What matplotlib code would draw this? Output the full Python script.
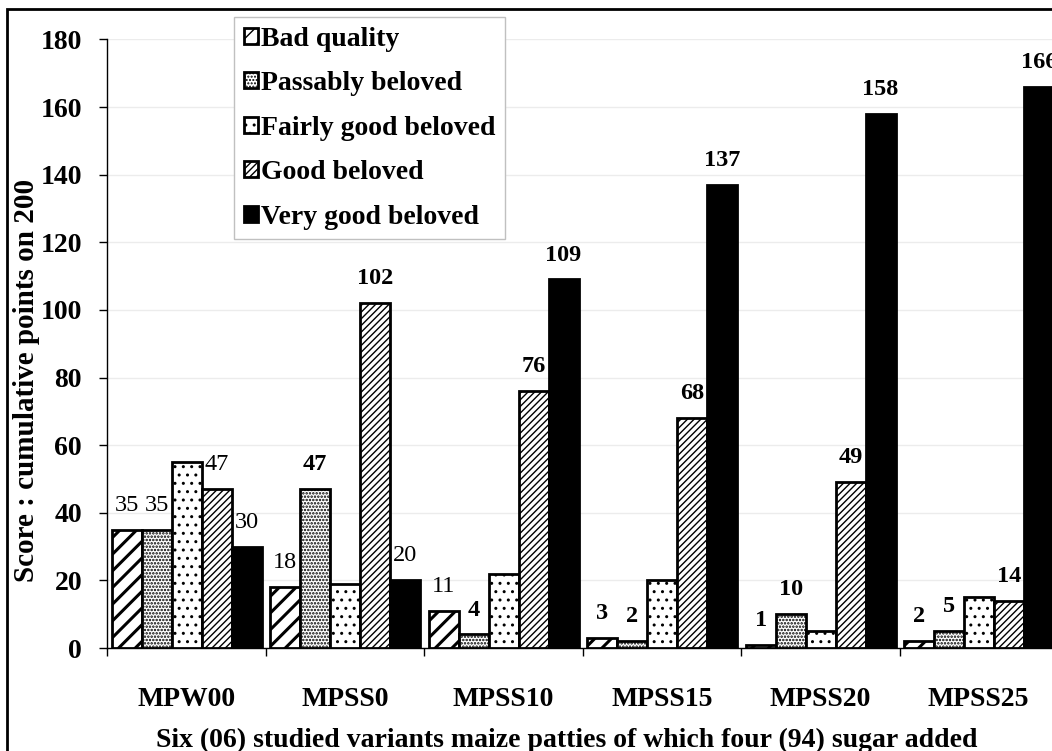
import matplotlib.pyplot as plt
from matplotlib.patches import Rectangle
import numpy as np

plt.rcParams['font.family'] = 'Liberation Serif'
plt.rcParams['font.weight'] = 'bold'

variants = ['MPW00', 'MPSS0', 'MPSS10', 'MPSS15', 'MPSS20', 'MPSS25']
series = ['Bad quality', 'Passably beloved', 'Fairly good beloved',
          'Good beloved', 'Very good beloved']

bad_quality = [35, 18, 11, 3, 1, 2]
passably = [35, 47, 4, 2, 10, 5]
fairly_good = [55, 19, 22, 20, 5, 15]
good = [47, 102, 76, 68, 49, 14]
very_good = [30, 20, 109, 137, 158, 166]

values = [bad_quality, passably, fairly_good, good, very_good]
hatches = ['//', '.....', '..', '/////', None]
faces = ['white', 'white', 'white', 'white', 'black']
hatch_lw = [2.2, 1.2, 1.0, 1.0, 1.0]
# fairly good bars carry no value labels
labelled = [True, True, False, True, True]
# labels printed in normal weight (group, series)
light = {(0, 0), (0, 1), (0, 3), (0, 4), (1, 0), (1, 4), (2, 0)}

W, H = 1052, 751
fig = plt.figure(figsize=(W / 100, H / 100), dpi=100)
ax = fig.add_axes([107 / W, (H - 648) / H, 951 / W, (648 - 39.4) / H])

x = np.arange(len(variants))
bw = 0.189
off = 0.03
for i, vals in enumerate(values):
    with plt.rc_context({'hatch.linewidth': hatch_lw[i]}):
        bars = ax.bar(x + off + i * bw, vals, width=bw, align='edge',
                      color=faces[i], edgecolor='black', linewidth=2,
                      hatch=hatches[i], label=series[i], zorder=3)
    for b in bars:
        try:
            b.set_hatch_linewidth(hatch_lw[i])
        except AttributeError:
            pass
    if labelled[i]:
        for g, b in enumerate(bars):
            wt = 'normal' if (g, i) in light else 'bold'
            ax.annotate(str(vals[g]), (b.get_x() + b.get_width() / 2, b.get_height()),
                        xytext=(0, 10), textcoords='offset points',
                        ha='center', va='bottom', fontsize=17.5, fontweight=wt)

ax.set_xlim(0, len(variants))
ax.set_ylim(0, 180)
ax.set_yticks(np.arange(0, 181, 20))
ax.set_xticks(np.arange(0, len(variants) + 1))
ax.set_xticklabels([])
ax.set_xticks(x + 0.5, minor=True)
ax.set_xticklabels(variants, minor=True, fontsize=20, fontweight='bold')
ax.tick_params(axis='x', which='minor', length=0, pad=28)
ax.tick_params(axis='x', which='major', length=6, width=1, direction='out')
ax.tick_params(axis='y', length=6, width=1, direction='out', pad=12, labelsize=20)

ax.yaxis.grid(True, color='#ececec', linewidth=1)
ax.set_axisbelow(True)
for s in ['top', 'right']:
    ax.spines[s].set_visible(False)
for s in ['left', 'bottom']:
    ax.spines[s].set_linewidth(1.0)

fig.text(27 / W, 1 - 380 / H, 'Score : cumulative points on 200', rotation=90,
         ha='center', va='center', fontsize=21, fontweight='bold')
fig.text(567 / W, 4 / H, 'Six (06) studied variants maize patties of which four (94) sugar added',
         ha='center', va='baseline', fontsize=20, fontweight='bold')

leg = ax.legend(loc='upper left', bbox_to_anchor=(234 / W, 1 - 17 / H),
                bbox_transform=fig.transFigure, borderaxespad=0,
                fancybox=False, framealpha=1, edgecolor='#c0c0c0',
                prop={'size': 20, 'weight': 'bold'}, handlelength=0.5,
                handleheight=0.5, handletextpad=0.12, labelspacing=0.7,
                borderpad=0.35)
leg.get_frame().set_linewidth(1)

# black frame around the whole figure
fig.patches.append(Rectangle((7 / W, -0.05), 1.2, 1.05 - 9 / H, transform=fig.transFigure,
                             fill=False, edgecolor='black', linewidth=2))

fig.savefig('out.png', dpi=100)
